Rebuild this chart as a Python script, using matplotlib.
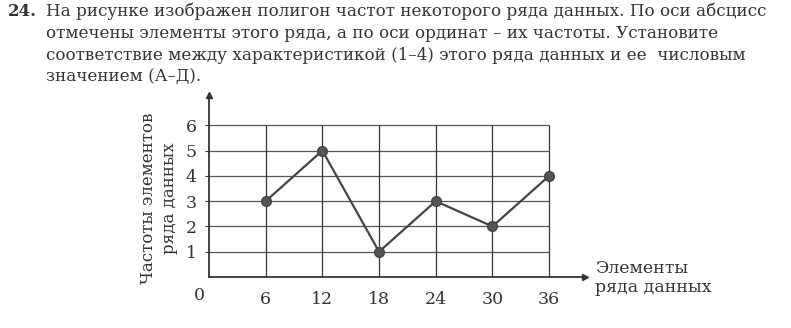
import matplotlib
matplotlib.use("Agg")
from matplotlib import pyplot as plt

plt.rcParams["font.family"] = ["DejaVu Serif"]

# data of the frequency polygon
elements = [6, 12, 18, 24, 30, 36]
freqs = [3, 5, 1, 3, 2, 4]
y_ticks = [1, 2, 3, 4, 5, 6]

task_lines = [
    "На рисунке изображен полигон частот некоторого ряда данных. По оси абсцисс",
    "отмечены элементы этого ряда, а по оси ординат – их частоты. Установите",
    "соответствие между характеристикой (1–4) этого ряда данных и ее  числовым",
    "значением (А–Д).",
]

fig = plt.figure(figsize=(7.91, 3.28), dpi=100)

# task text
fig.text(8 / 791, 1 - 11 / 328, "24.", fontsize=12, fontweight="bold",
         va="center", ha="left", color="#333333")
line_y = [11, 33, 55, 77]
for txt, yy in zip(task_lines, line_y):
    fig.text(46 / 791, 1 - yy / 328, txt, fontsize=12.1, va="center", ha="left",
             color="#333333")

# chart axes: y=0 at px 277, x=0 at px 209
ax = fig.add_axes([209 / 791, 1 - 277 / 328, (585 - 209) / 791, (277 - 95) / 328])
ax.set_xlim(0, 39.8)
ax.set_ylim(0, 7.2)
for s in ["top", "right"]:
    ax.spines[s].set_visible(False)
for s in ["left", "bottom"]:
    ax.spines[s].set_linewidth(1.3)
    ax.spines[s].set_color("#333333")

# arrows at the ends of the axes
ax.plot(1, 0, ">", transform=ax.transAxes, clip_on=False, color="#333333", ms=5)
ax.plot(0, 1, "^", transform=ax.transAxes, clip_on=False, color="#333333", ms=5)

# grid
ax.hlines(y_ticks, 0, max(elements), color="#555555", lw=0.9)
ax.vlines(elements, 0, max(y_ticks), color="#333333", lw=0.9)

ax.plot(elements, freqs, color="#444444", lw=1.6, marker="o", ms=7,
        markerfacecolor="#555555", markeredgecolor="#444444", zorder=3)

ax.set_xticks(elements)
ax.set_xticklabels([str(e) for e in elements], fontsize=12.5, color="#333333")
ax.set_yticks(y_ticks)
ax.set_yticklabels([str(v) for v in y_ticks], fontsize=12.5, color="#333333")
ax.tick_params(axis="x", length=0, pad=10)
ax.tick_params(axis="y", length=3, width=0.8, pad=6, color="#333333")

ax.text(-0.4, -0.75, "0", fontsize=12.5, ha="right", va="center", color="#333333")

fig.text(159 / 791, 1 - 198 / 328, "Частоты элементов\nряда данных", rotation=90,
         fontsize=12, ha="center", va="center", linespacing=1.25, color="#333333")
fig.text(595 / 791, 1 - 278 / 328, "Элементы\nряда данных", fontsize=12.5,
         ha="left", va="center", linespacing=1.1, color="#333333")

fig.savefig("out.png", dpi=100)
